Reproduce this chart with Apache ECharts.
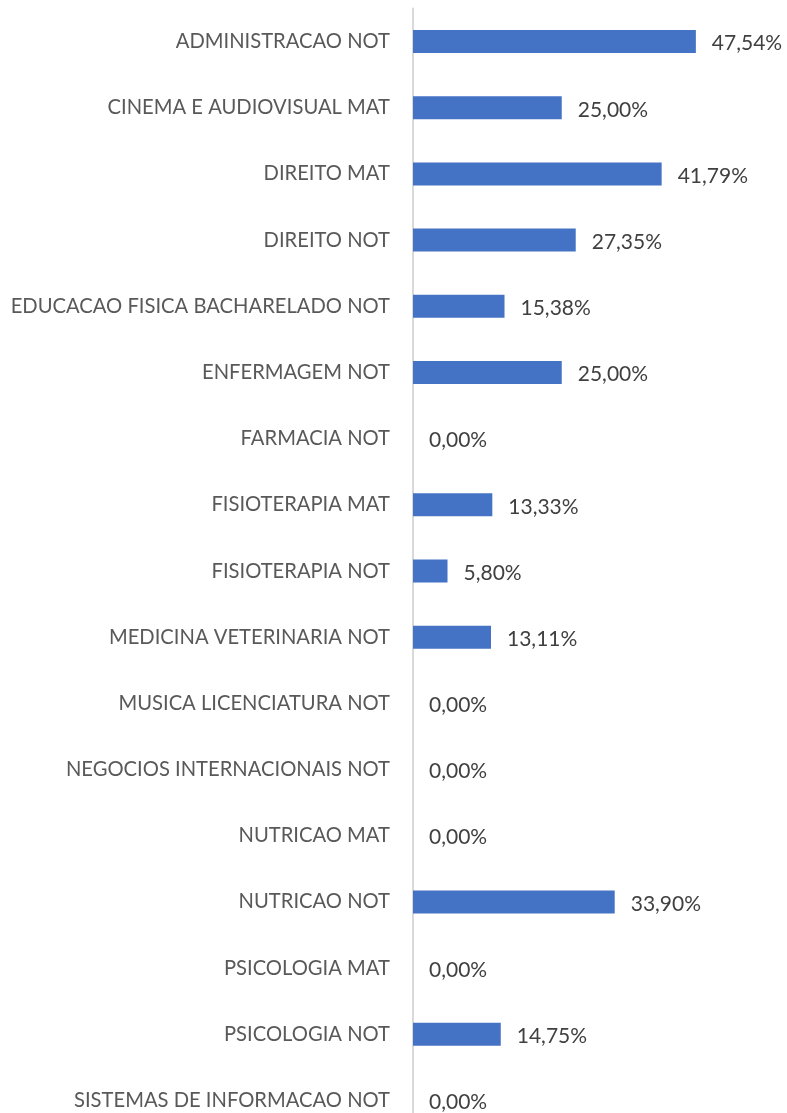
<!DOCTYPE html>
<html>
<head>
<meta charset="utf-8">
<script src="https://cdn.jsdelivr.net/npm/echarts@6/dist/echarts.min.js"></script>
<style>
  html, body { margin: 0; padding: 0; background: #fff; }
  #chart { width: 787px; height: 1113px; }
</style>
</head>
<body>
<div id="chart"></div>
<script>
  const courses = [
    'ADMINISTRACAO NOT',
    'CINEMA E AUDIOVISUAL MAT',
    'DIREITO MAT',
    'DIREITO NOT',
    'EDUCACAO FISICA BACHARELADO NOT',
    'ENFERMAGEM NOT',
    'FARMACIA NOT',
    'FISIOTERAPIA MAT',
    'FISIOTERAPIA NOT',
    'MEDICINA VETERINARIA NOT',
    'MUSICA LICENCIATURA NOT',
    'NEGOCIOS INTERNACIONAIS NOT',
    'NUTRICAO MAT',
    'NUTRICAO NOT',
    'PSICOLOGIA MAT',
    'PSICOLOGIA NOT',
    'SISTEMAS DE INFORMACAO NOT'
  ]
  const percents = [47.54, 25.00, 41.79, 27.35, 15.38, 25.00, 0.00, 13.33, 5.80, 13.11, 0.00, 0.00, 0.00, 33.90, 0.00, 14.75, 0.00]

  const myChart = echarts.init(document.getElementById('chart'))
  const option = {
    backgroundColor: '#fff',
    animation: false,
    grid: {
      left: 413,
      top: 8.5,
      width: 357,
      height: 1125,
      outerBoundsMode: 'none'
    },
    xAxis: {
      type: 'value',
      min: 0,
      max: 60,
      show: false
    },
    yAxis: {
      type: 'category',
      inverse: true,
      data: courses,
      axisLine: { show: true, lineStyle: { color: '#d9d9d9', width: 2 } },
      axisTick: { show: false },
      axisLabel: {
        margin: 23,
        color: '#595959',
        fontFamily: 'Lato',
        fontSize: 20.2
      }
    },
    series: [
      {
        type: 'bar',
        data: percents,
        barWidth: 23,
        itemStyle: { color: '#4472c4' },
        label: {
          show: true,
          position: 'right',
          distance: 16,
          offset: [0, 2],
          color: '#404040',
          fontFamily: 'Lato',
          fontSize: 21,
          formatter: function (p) {
            return p.value.toFixed(2).replace('.', ',') + '%'
          }
        }
      }
    ]
  }
  myChart.setOption(option)
</script>
</body>
</html>
